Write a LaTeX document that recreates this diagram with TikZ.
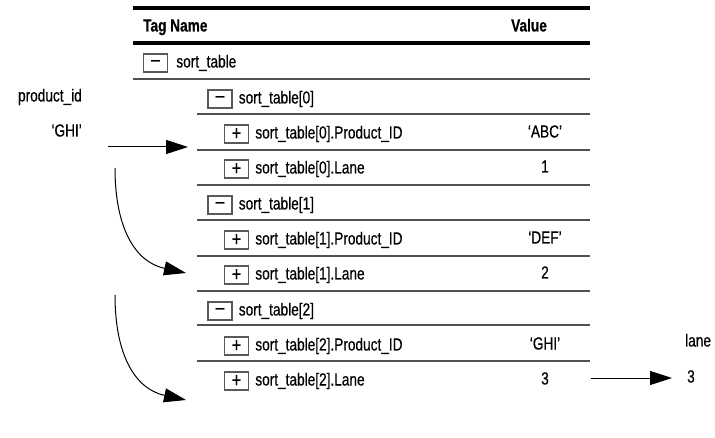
\documentclass[tikz,border=0pt]{standalone}
\usepackage{fontspec}
\setmainfont{Liberation Sans}[FakeStretch=0.78, FakeBold=0.5]
\usetikzlibrary{arrows.meta, positioning}
\definecolor{rulegray}{HTML}{505050}
\newcommand{\tabfont}{\fontsize{17.5}{20}\selectfont}
\tikzset{
    expbox/.style={rectangle, draw=black!65, line width=1.3pt, fill=white, minimum width=24pt, minimum height=18pt, inner sep=0pt, font=\fontsize{20}{20}\selectfont},
    tagtxt/.style={anchor=west, inner sep=0pt, text height=13pt, text depth=4pt, font=\tabfont},
    valtxt/.style={inner sep=0pt, text height=13pt, text depth=4pt, font=\tabfont},
    hdrtxt/.style={valtxt, font=\tabfont\bfseries},
    hdrrule/.style={line width=3.5pt},
    rowrule/.style={draw=rulegray, line width=1.8pt},
    arr/.style={-{Triangle[length=22pt, width=14pt]}, line width=1pt},
}

\begin{document}
\begin{tikzpicture}[x=1pt, y=-1pt]
\useasboundingbox (0,0) rectangle (715,438);

% ── Header ──
\draw[hdrrule] (133,8) -- (590,8);
\node[hdrtxt, anchor=west] (tagname) at (143,27) {Tag Name};
\node[hdrtxt] (value) at (529,27) {Value};
\draw[hdrrule] (133,43) -- (590,43);

% ── sort_table ──
\node[expbox] (rootbox) at (155.5,63) {--};
\node[tagtxt, right=8pt of rootbox] (root) {sort\_table};
\draw[rowrule] (133,79) -- (590,79);

% ── sort_table[0] ──
\node[expbox] (t0box) at (220,99) {--};
\node[tagtxt, right=6pt of t0box] (t0) {sort\_table[0]};
\draw[rowrule] (197,114) -- (590,114);
\node[expbox] (t0idbox) at (236.5,134) {+};
\node[tagtxt, right=6pt of t0idbox] (t0id) {sort\_table[0].Product\_ID};
\node[valtxt] (t0idval) at (545,133) {`ABC'};
\draw[rowrule] (197,150) -- (590,150);
\node[expbox] (t0lanebox) at (236.5,169) {+};
\node[tagtxt, right=6pt of t0lanebox] (t0lane) {sort\_table[0].Lane};
\node[valtxt] (t0laneval) at (545,168) {1};
\draw[rowrule] (197,185) -- (590,185);

% ── sort_table[1] ──
\node[expbox] (t1box) at (220,205) {--};
\node[tagtxt, right=6pt of t1box] (t1) {sort\_table[1]};
\draw[rowrule] (197,220) -- (590,220);
\node[expbox] (t1idbox) at (236.5,240) {+};
\node[tagtxt, right=6pt of t1idbox] (t1id) {sort\_table[1].Product\_ID};
\node[valtxt] (t1idval) at (545,239) {`DEF'};
\draw[rowrule] (197,256) -- (590,256);
\node[expbox] (t1lanebox) at (236.5,275) {+};
\node[tagtxt, right=6pt of t1lanebox] (t1lane) {sort\_table[1].Lane};
\node[valtxt] (t1laneval) at (545,274) {2};
\draw[rowrule] (197,291) -- (590,291);

% ── sort_table[2] ──
\node[expbox] (t2box) at (220,311) {--};
\node[tagtxt, right=6pt of t2box] (t2) {sort\_table[2]};
\draw[rowrule] (197,325) -- (590,325);
\node[expbox] (t2idbox) at (236.5,346) {+};
\node[tagtxt, right=6pt of t2idbox] (t2id) {sort\_table[2].Product\_ID};
\node[valtxt] (t2idval) at (545,345) {`GHI'};
\draw[rowrule] (197,361) -- (590,361);
\node[expbox] (t2lanebox) at (236.5,381) {+};
\node[tagtxt, right=6pt of t2lanebox] (t2lane) {sort\_table[2].Lane};
\node[valtxt] (t2laneval) at (545,380) {3};

% ── Search key (left) ──
\node[valtxt, anchor=east] (pid) at (82,97) {product\_id};
\node[valtxt, anchor=east] (pidval) at (82,132) {`GHI'};

% ── Result (right) ──
\node[tagtxt] (lane) at (685,342) {lane};
\node[tagtxt] (laneval) at (687,378) {3};

% ── Search arrows ──
\coordinate (keyout) at (108,147);
\coordinate (t0in) at (188,147);
\draw[arr] (keyout) -- (t0in);
\coordinate (step1) at (115,168);
\coordinate (t1in) at (186,273);
\draw[arr] (step1) .. controls (115,228) and (135,262) .. (t1in);
\coordinate (step2) at (115,295);
\coordinate (t2in) at (186,400);
\draw[arr] (step2) .. controls (115,355) and (135,389) .. (t2in);

% ── Result arrow ──
\coordinate (resout) at (591,378);
\coordinate (resin) at (672,378);
\draw[arr] (resout) -- (resin);

\end{tikzpicture}
\end{document}
